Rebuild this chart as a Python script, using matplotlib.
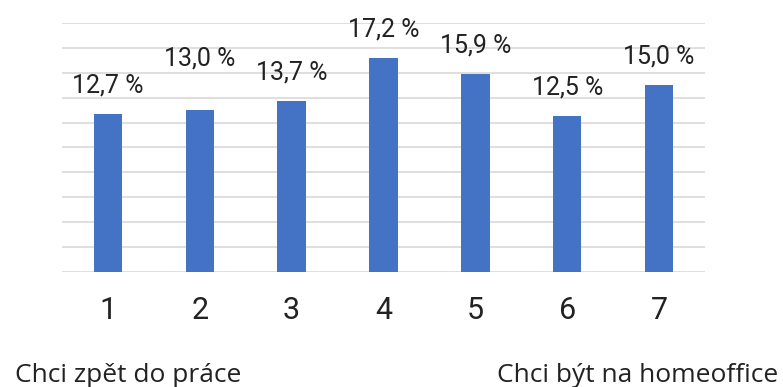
#- Bar chart of answers on a 1-7 scale (back to the office vs. home office)

import numpy as np
import matplotlib.pyplot as plt


#- Data:

categories = ["1", "2", "3", "4", "5", "6", "7"]
shares = [12.7, 13.0, 13.7, 17.2, 15.9, 12.5, 15.0]
value_labels = ["12,7 %", "13,0 %", "13,7 %", "17,2 %", "15,9 %", "12,5 %", "15,0 %"]
scale_left = "Chci zpět do práce"
scale_right = "Chci být na homeoffice"


#- Plot:

fig = plt.figure(figsize=(7.83, 3.87), dpi=100)
ax = fig.add_axes([0.0792, 0.2972, 0.8212, 0.6434])

idx = np.arange(len(categories))
bars = ax.bar(idx, shares, 0.31, color="#4472C4", zorder=3)

# label of the 2nd bar sits higher so it doesn't crowd its neighbours
lift = [15.5, 32, 15.5, 15.5, 15.5, 15.5, 15.5]
for rect, lab, dy in zip(bars, value_labels, lift):
    ax.annotate(lab, (rect.get_x() + rect.get_width() / 2, rect.get_height()),
                xytext=(0, dy), textcoords="offset points",
                ha="center", va="baseline", fontsize=18,
                family="Roboto", color="#222222")

ax.set_xlim(-0.5, len(categories) - 0.5)
ax.set_ylim(0, 20)
ax.set_yticks(np.arange(0, 21, 2))
ax.yaxis.grid(True, color="#D9D9D9", linewidth=1.2, zorder=0)
ax.tick_params(axis="y", left=False, labelleft=False)
ax.tick_params(axis="x", bottom=False, pad=14)
ax.set_xticks(idx)
ax.set_xticklabels(categories, fontsize=22, family="Roboto", color="#222222")
for side in ["top", "right", "left", "bottom"]:
    ax.spines[side].set_visible(False)

fig.text(15 / 783, 1 - 382 / 387, scale_left, ha="left", va="baseline",
         fontsize=19, family="Open Sans", color="#222222")
fig.text(778 / 783, 1 - 382 / 387, scale_right, ha="right", va="baseline",
         fontsize=19, family="Open Sans", color="#222222")

plt.savefig("out.png", dpi=100)
